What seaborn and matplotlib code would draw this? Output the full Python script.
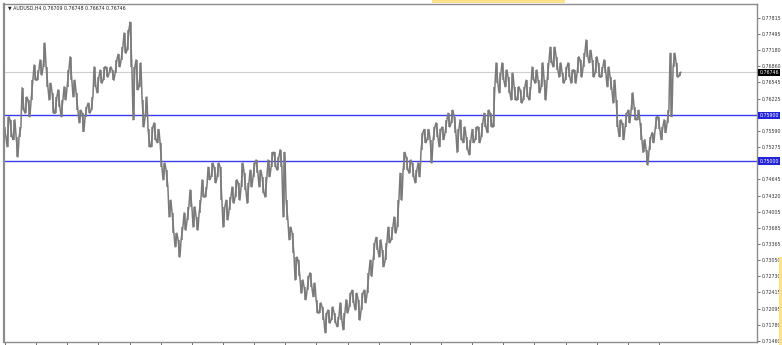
import numpy as np
import pandas as pd
import matplotlib
matplotlib.use("Agg")
import matplotlib.pyplot as plt
import matplotlib.transforms as mtransforms
from matplotlib.patches import Rectangle
import seaborn as sns

# ---------------- data (AUDUSD, H4 bars) ----------------
symbol_title = "\u25BC AUDUSD,H4 0.76709 0.76748 0.76674 0.76746"

bar_high = [
    0.7567, 0.7587, 0.7581, 0.7581, 0.7548, 0.7567, 0.7644, 0.7626, 0.7620, 0.7659,
    0.7689, 0.7679, 0.7699, 0.7732, 0.7685, 0.7653, 0.7634, 0.7626, 0.7640, 0.7620,
    0.7646, 0.7679, 0.7705, 0.7659, 0.7634, 0.7600, 0.7594, 0.7606, 0.7614, 0.7626,
    0.7685, 0.7665, 0.7679, 0.7685, 0.7685, 0.7685, 0.7679, 0.7699, 0.7710, 0.7724,
    0.7752, 0.7758, 0.7773, 0.7685, 0.7699, 0.7693, 0.7620, 0.7626, 0.7562, 0.7567,
    0.7575,
    0.7562, 0.7536, 0.7496, 0.7482, 0.7423, 0.7398, 0.7358, 0.7345, 0.7370, 0.7398,
    0.7410, 0.7443, 0.7410, 0.7390, 0.7423, 0.7463, 0.7449, 0.7488, 0.7496, 0.7488,
    0.7496, 0.7488, 0.7410, 0.7423, 0.7429, 0.7449, 0.7463, 0.7457, 0.7496, 0.7476,
    0.7457, 0.7482, 0.7496, 0.7502, 0.7482, 0.7469, 0.7469, 0.7502, 0.7517, 0.7517,
    0.7508, 0.7522, 0.7517, 0.7423, 0.7370, 0.7358, 0.7311,
    0.7305, 0.7266, 0.7252, 0.7273, 0.7280, 0.7260, 0.7227, 0.7221, 0.7213, 0.7201,
    0.7207, 0.7213, 0.7201, 0.7193, 0.7221, 0.7201, 0.7227, 0.7240, 0.7246, 0.7240,
    0.7227, 0.7240, 0.7246, 0.7280, 0.7305, 0.7339, 0.7350, 0.7345, 0.7325, 0.7339,
    0.7370, 0.7370, 0.7390, 0.7423, 0.7476, 0.7517, 0.7508, 0.7502, 0.7496, 0.7482,
    0.7496, 0.7556, 0.7562, 0.7562, 0.7542, 0.7567, 0.7575, 0.7562, 0.7567, 0.7581,
    0.7594, 0.7600, 0.7587, 0.7562, 0.7581, 0.7567, 0.7548, 0.7542, 0.7562, 0.7567,
    0.7567, 0.7575, 0.7594, 0.7600, 0.7594, 0.7646, 0.7693, 0.7673, 0.7693, 0.7679,
    0.7665, 0.7673, 0.7646, 0.7646, 0.7640, 0.7646, 0.7659, 0.7646, 0.7685, 0.7679,
    0.7659, 0.7693, 0.7659, 0.7693, 0.7724, 0.7724, 0.7705, 0.7693, 0.7673, 0.7685,
    0.7693, 0.7679, 0.7679, 0.7705, 0.7699, 0.7712, 0.7738, 0.7718, 0.7699, 0.7705,
    0.7693, 0.7685, 0.7699, 0.7685,
    0.7665, 0.7659, 0.7620, 0.7581, 0.7575, 0.7594, 0.7600, 0.7634, 0.7606, 0.7600,
    0.7575, 0.7542, 0.7522, 0.7548, 0.7556, 0.7587, 0.7587, 0.7567, 0.7581, 0.7600,
    0.7712, 0.7712, 0.7693, 0.76748,
]

bar_low = [
    0.7548, 0.7528, 0.7548, 0.7542, 0.7508, 0.7548, 0.7600, 0.7594, 0.7587, 0.7620,
    0.7659, 0.7659, 0.7669, 0.7685, 0.7646, 0.7620, 0.7594, 0.7594, 0.7606, 0.7587,
    0.7620, 0.7646, 0.7659, 0.7626, 0.7600, 0.7575, 0.7558, 0.7587, 0.7594, 0.7600,
    0.7646, 0.7634, 0.7653, 0.7659, 0.7665, 0.7673, 0.7659, 0.7673, 0.7685, 0.7699,
    0.7712, 0.7718, 0.7685, 0.7581, 0.7640, 0.7646, 0.7567, 0.7587, 0.7528, 0.7528,
    0.7542,
    0.7536, 0.7488, 0.7463, 0.7449, 0.7390, 0.7358, 0.7331, 0.7311, 0.7345, 0.7364,
    0.7384, 0.7410, 0.7370, 0.7364, 0.7398, 0.7429, 0.7429, 0.7463, 0.7469, 0.7457,
    0.7469, 0.7423, 0.7370, 0.7384, 0.7404, 0.7417, 0.7429, 0.7423, 0.7449, 0.7443,
    0.7417, 0.7449, 0.7469, 0.7476, 0.7449, 0.7437, 0.7429, 0.7469, 0.7488, 0.7488,
    0.7482, 0.7488, 0.7390, 0.7384, 0.7345, 0.7319, 0.7266,
    0.7273, 0.7240, 0.7227, 0.7246, 0.7252, 0.7233, 0.7201, 0.7201, 0.7187, 0.7162,
    0.7181, 0.7187, 0.7181, 0.7174, 0.7187, 0.7168, 0.7201, 0.7213, 0.7221, 0.7207,
    0.7187, 0.7207, 0.7221, 0.7240, 0.7273, 0.7305, 0.7325, 0.7311, 0.7292, 0.7305,
    0.7339, 0.7345, 0.7358, 0.7370, 0.7423, 0.7482, 0.7482, 0.7476, 0.7469, 0.7457,
    0.7469, 0.7522, 0.7536, 0.7542, 0.7496, 0.7542, 0.7548, 0.7528, 0.7542, 0.7556,
    0.7567, 0.7575, 0.7556, 0.7517, 0.7542, 0.7536, 0.7522, 0.7512, 0.7536, 0.7542,
    0.7536, 0.7548, 0.7567, 0.7556, 0.7567, 0.7567, 0.7653, 0.7634, 0.7659, 0.7646,
    0.7634, 0.7620, 0.7620, 0.7620, 0.7614, 0.7620, 0.7626, 0.7620, 0.7659, 0.7653,
    0.7634, 0.7646, 0.7620, 0.7659, 0.7693, 0.7685, 0.7679, 0.7665, 0.7653, 0.7659,
    0.7665, 0.7653, 0.7653, 0.7673, 0.7665, 0.7685, 0.7705, 0.7693, 0.7665, 0.7673,
    0.7665, 0.7665, 0.7673, 0.7646,
    0.7640, 0.7614, 0.7567, 0.7548, 0.7542, 0.7567, 0.7575, 0.7600, 0.7581, 0.7581,
    0.7542, 0.7517, 0.7492, 0.7522, 0.7536, 0.7562, 0.7562, 0.7542, 0.7556, 0.7575,
    0.7587, 0.7685, 0.7665, 0.76674,
]

last_price = 0.76746
level_lines = [0.75900, 0.75000]
level_labels = ["0.75900", "0.75000"]
price_ticks = [0.77815, 0.77495, 0.77180, 0.76860, 0.76545, 0.76225, 0.75590,
               0.75275, 0.74645, 0.74320, 0.74005, 0.73685, 0.73365, 0.73050,
               0.72730, 0.72415, 0.72095, 0.71780, 0.71460]
price_tick_labels = ["0.77815", "0.77495", "0.77180", "0.76860", "0.76545", "0.76225",
                     "0.75590", "0.75275", "0.74645", "0.74320", "0.74005", "0.73685",
                     "0.73365", "0.73050", "0.72730", "0.72415", "0.72095", "0.71780",
                     "0.71460"]
n_time_ticks = 22
time_tick_step = 10.38  # bars between time-axis marks

# ---------------- figure ----------------
sns.set_style("white")
plt.rcParams['font.family'] = ['DejaVu Sans']

W, H = 782, 345
fig = plt.figure(figsize=(W / 100, H / 100), dpi=100)
ax = fig.add_axes([4 / W, 3 / H, 753 / W, 338 / H])

n = min(len(bar_high), len(bar_low))
bars = np.arange(n)
hi = np.asarray(bar_high[:n])
lo = np.asarray(bar_low[:n])

# high-low range of each bar
df = pd.DataFrame({
    "bar": np.concatenate([bars, bars]),
    "price": np.concatenate([hi, lo]),
})
sns.lineplot(data=df, x="bar", y="price", units="bar", estimator=None,
             color="#7a7a7a", linewidth=1.1, ax=ax, legend=False,
             solid_capstyle="butt")

# continuous trace through the bar extremes (alternating), giving the dense
# bar-chart texture of the terminal
first = np.where(bars % 2 == 0, hi, lo)
second = np.where(bars % 2 == 0, lo, hi)
trace = pd.DataFrame({
    "t": np.column_stack([bars - 0.3, bars + 0.3]).ravel(),
    "price": np.column_stack([first, second]).ravel(),
})
sns.lineplot(data=trace, x="t", y="price", sort=False, estimator=None,
             color="#7a7a7a", linewidth=1.1, ax=ax, legend=False)

# horizontal levels
ax.axhline(last_price, color="#cfcfcf", lw=0.8, zorder=0)
for lv in level_lines:
    ax.axhline(lv, color="#3c3cf0", lw=1.0, zorder=1)

ax.set_xlim(-1 / 3, 250.67)
ax.set_ylim(0.71440, 0.78088)

# axes styling
for s in ax.spines.values():
    s.set_color("#8c8c8c")
    s.set_linewidth(1.0)
ax.spines["left"].set_linewidth(1.6)

ax.yaxis.tick_right()
ax.set_yticks(price_ticks)
ax.set_yticklabels(price_tick_labels)
ax.tick_params(axis="y", which="both", right=True, length=2.5, width=0.6,
               colors="#555555", labelsize=3.4, pad=1.2, labelcolor="#333333")
ax.set_xticks(np.arange(n_time_ticks) * time_tick_step)
ax.set_xticklabels([])
ax.tick_params(axis="x", bottom=True, length=3, width=0.6, colors="#555555")
ax.set_xlabel("")
ax.set_ylabel("")

# price labels on right axis
trans = mtransforms.blended_transform_factory(ax.transAxes, ax.transData)
ax.text(1.003, last_price, f"{last_price:.5f}", transform=trans, ha="left", va="center",
        fontsize=3.4, color="white",
        bbox=dict(facecolor="black", edgecolor="none", pad=0.8), clip_on=False)
for lv, lab in zip(level_lines, level_labels):
    ax.text(1.003, lv, lab, transform=trans, ha="left", va="center",
            fontsize=3.4, color="white",
            bbox=dict(facecolor="#2323d8", edgecolor="none", pad=0.8), clip_on=False)

# symbol header
fig.text(8 / W, 1 - 8 / H, symbol_title, fontsize=3.4, color="#222222",
         ha="left", va="center")

# yellow decorations
fig.patches.append(Rectangle((432 / W, 1 - 3 / H), 133 / W, 3 / H,
                             transform=fig.transFigure, facecolor="#fde08a",
                             edgecolor="none"))
fig.patches.append(Rectangle((779 / W, 0), 3 / W, 88 / H,
                             transform=fig.transFigure, facecolor="#fde08a",
                             edgecolor="none"))

fig.savefig("out.png", dpi=100)
